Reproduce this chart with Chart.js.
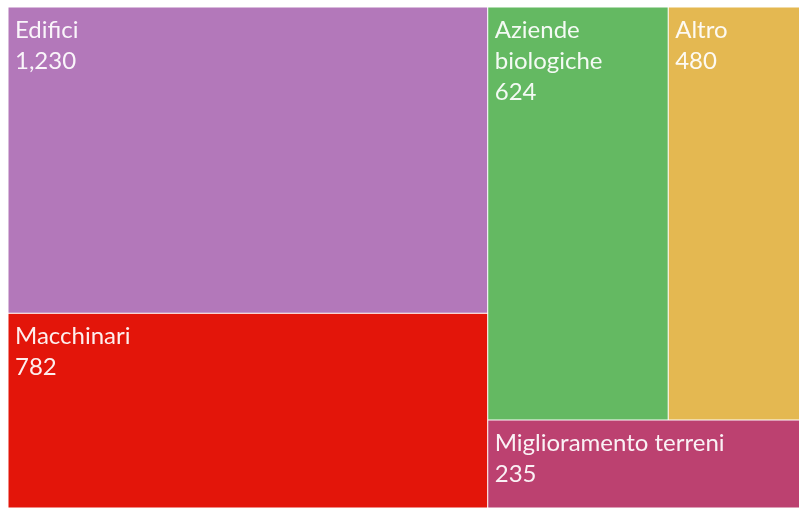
<!DOCTYPE html>
<html>
<head>
<meta charset="utf-8">
<script src="https://cdn.jsdelivr.net/npm/chart.js@4"></script>
<style>
  html, body { margin: 0; padding: 0; background: #fff; overflow: hidden; }
  /* the treemap runs a little past the right edge of the frame */
  #wrap { width: 807px; height: 508px; }
</style>
</head>
<body>
<div id="wrap"><canvas id="chart"></canvas></div>
<script>
// Investimenti per categoria
const categories = ['Edifici', 'Macchinari', 'Aziende biologiche', 'Altro', 'Miglioramento terreni'];
const values = [1230, 782, 624, 480, 235];
const colors = ['#b378ba', '#e3150a', '#64b962', '#e4b851', '#bc4170'];

const PHI = (1 + Math.sqrt(5)) / 2;

/**
 * Squarified layout (same rule as d3.treemapSquarify) in the unit square.
 * pxW / pxH give the real aspect of the plotting area.
 */
function squarify(vals, pxW, pxH) {
  const rects = [];
  let x0 = 0, y0 = 0, x1 = 1, y1 = 1;
  let value = vals.reduce((a, b) => a + b, 0);
  let i0 = 0;
  const n = vals.length;
  while (i0 < n) {
    const dx = (x1 - x0) * pxW, dy = (y1 - y0) * pxH;
    let i1 = i0;
    let sumValue = vals[i1++];
    let minV = sumValue, maxV = sumValue;
    const alpha = Math.max(dy / dx, dx / dy) / (value * PHI);
    let beta = sumValue * sumValue * alpha;
    let minRatio = Math.max(maxV / beta, beta / minV);
    for (; i1 < n; i1++) {
      const v = vals[i1];
      sumValue += v;
      if (v < minV) minV = v;
      if (v > maxV) maxV = v;
      beta = sumValue * sumValue * alpha;
      const r = Math.max(maxV / beta, beta / minV);
      if (r > minRatio) { sumValue -= v; break; }
      minRatio = r;
    }
    if (dx < dy) {
      // row across the top
      const yb = y0 + (y1 - y0) * sumValue / value;
      let x = x0;
      for (let i = i0; i < i1; i++) {
        const w = (x1 - x0) * vals[i] / sumValue;
        rects[i] = { x0: x, x1: x + w, y0: y0, y1: yb };
        x += w;
      }
      y0 = yb;
    } else {
      // column on the left
      const xb = x0 + (x1 - x0) * sumValue / value;
      let y = y0;
      for (let i = i0; i < i1; i++) {
        const h = (y1 - y0) * vals[i] / sumValue;
        rects[i] = { x0: x0, x1: xb, y0: y, y1: y + h };
        y += h;
      }
      x0 = xb;
    }
    value -= sumValue;
    i0 = i1;
  }
  return rects;
}

class TreemapController extends Chart.DatasetController {
  update(mode) {
    const meta = this._cachedMeta;
    this.updateElements(meta.data, 0, meta.data.length, mode);
  }
  updateElements(rects, start, count, mode) {
    const xs = this._cachedMeta.xScale;
    const ys = this._cachedMeta.yScale;
    const data = this.getDataset().data;
    const layout = squarify(data, xs.width, ys.height);
    for (let i = start; i < start + count; i++) {
      const r = layout[i];
      const left = xs.getPixelForValue(r.x0);
      const right = xs.getPixelForValue(r.x1);
      const top = ys.getPixelForValue(r.y0);
      const bottom = ys.getPixelForValue(r.y1);
      this.updateElement(rects[i], i, {
        x: (left + right) / 2,
        width: right - left,
        y: top,
        base: bottom,
        horizontal: false,
        inflateAmount: 0,
        borderSkipped: {},
        options: this.resolveDataElementOptions(i, mode)
      }, mode);
    }
  }
}
TreemapController.id = 'treemap';
TreemapController.defaults = { datasetElementType: false, dataElementType: 'bar' };
Chart.register(TreemapController);

// white labels in the top-left corner of each cell, wrapped to the cell width
const cellLabels = {
  id: 'cellLabels',
  afterDatasetsDraw(chart) {
    const ctx = chart.ctx;
    const meta = chart.getDatasetMeta(0);
    const ds = chart.data.datasets[0];
    ctx.save();
    ctx.font = '24px Lato';
    ctx.fillStyle = 'rgba(255,255,255,0.93)';
    ctx.textBaseline = 'alphabetic';
    ctx.textAlign = 'left';
    meta.data.forEach((el, i) => {
      const { x, y, width } = el.getProps(['x', 'y', 'width'], true);
      const left = x - width / 2;
      const maxW = width - 14;
      const lines = [];
      let cur = '';
      chart.data.labels[i].split(' ').forEach(word => {
        const test = cur ? cur + ' ' + word : word;
        if (cur && ctx.measureText(test).width > maxW) { lines.push(cur); cur = word; }
        else cur = test;
      });
      lines.push(cur);
      lines.push(ds.data[i].toLocaleString('en-US'));
      lines.forEach((t, k) => ctx.fillText(t, left + 7, y + 31 + k * 31));
    });
    ctx.restore();
  }
};

new Chart(document.getElementById('chart'), {
  type: 'treemap',
  data: {
    labels: categories,
    datasets: [{
      data: values,
      backgroundColor: colors,
      borderColor: '#ffffff',
      borderWidth: 0.5
    }]
  },
  options: {
    responsive: true,
    maintainAspectRatio: false,
    animation: false,
    events: [],
    layout: { padding: { left: 8, top: 7, right: 0, bottom: 0 } },
    scales: {
      x: { type: 'linear', min: 0, max: 1, display: false },
      y: { type: 'linear', min: 0, max: 1, reverse: true, display: false }
    },
    plugins: { legend: { display: false }, tooltip: { enabled: false } }
  },
  plugins: [cellLabels]
});
</script>
</body>
</html>
